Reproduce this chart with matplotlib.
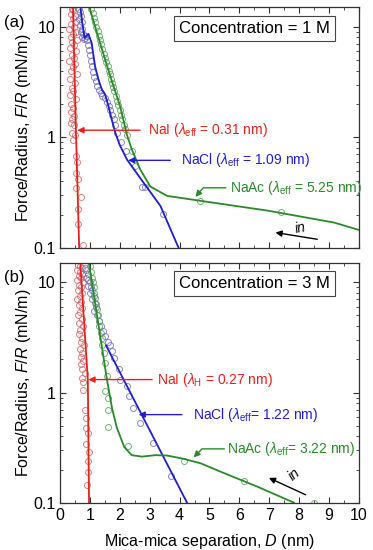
import numpy as np
import matplotlib
matplotlib.use("Agg")
import matplotlib.pyplot as plt
from matplotlib.ticker import NullFormatter, MultipleLocator

plt.rcParams['font.family'] = ['Liberation Sans', 'DejaVu Sans']
plt.rcParams['mathtext.fontset'] = 'custom'
plt.rcParams['mathtext.rm'] = 'Liberation Sans'
plt.rcParams['mathtext.it'] = 'Liberation Sans:italic'

RED, BLUE, GREEN = '#e3221e', '#1f1fd0', '#2a8a2a'
RED_M, BLUE_M, GREEN_M = '#d86a6a', '#7474b8', '#5da55d'

# ---------- panel (a): 1 M ----------
a_nai_d = [0.40, 0.45, 0.35, 0.50, 0.42, 0.55, 0.38, 0.48, 0.30, 0.52, 0.44, 0.36, 0.58, 0.41,
           0.47, 0.33, 0.53, 0.39, 0.46, 0.31, 0.50, 0.43, 0.37, 0.56, 0.34, 0.49, 0.40, 0.45,
           0.32, 0.52, 0.38, 0.44, 0.35, 0.48, 0.41, 0.36, 0.46, 0.41, 0.50, 0.45, 0.55, 0.57,
           0.53, 0.61, 0.55, 0.70, 0.59, 0.61, 0.78]
a_nai_f = [14.5, 14, 13, 12.5, 12, 11, 10.5, 10, 9.5, 9, 8.5, 8, 7.6, 7.2,
           6.8, 6.4, 6.0, 5.6, 5.2, 4.9, 4.6, 4.3, 4.0, 3.7, 3.4, 3.1, 2.8, 2.6,
           2.4, 2.2, 2.0, 1.85, 1.7, 1.55, 1.45, 1.35, 1.28, 1.10, 1.06, 0.95, 0.68, 0.60,
           0.48, 0.42, 0.35, 0.29, 0.225, 0.165, 0.107]
a_nacl_d = [0.62, 0.66, 0.70, 0.64, 0.72, 0.68, 0.74, 0.70, 0.76, 0.73, 0.79, 0.83, 0.87, 0.90,
            0.93, 0.97, 1.00, 1.03, 1.06, 1.10, 1.15, 1.20, 1.25, 1.30, 1.36, 1.42, 1.50, 1.57,
            1.63, 1.68, 1.74, 1.79, 1.85, 1.90, 2.04, 2.21, 2.74, 2.83, 3.45]
a_nacl_f = [14.5, 13.5, 12.5, 11.8, 11, 10.3, 9.6, 9.0, 8.5, 8.0, 7.7, 7.9, 8.3, 7.5,
            6.8, 6.2, 5.5, 4.9, 4.4, 3.9, 3.5, 3.2, 2.9, 2.7, 2.5, 2.35, 2.25, 2.1,
            1.9, 1.75, 1.6, 1.45, 1.3, 1.10, 0.90, 0.75, 0.357, 0.357, 0.205]
a_naac_d = [1.05, 1.09, 1.13, 1.17, 1.21, 1.26, 1.30, 1.34, 1.38, 1.42, 1.47, 1.51, 1.55, 1.59,
            1.63, 1.66, 1.70, 1.74, 1.78, 1.82, 1.87, 1.91, 1.95, 2.00, 2.04, 2.09, 2.14, 2.18,
            2.23, 2.40, 2.52, 4.70, 7.38]
a_naac_f = [14.5, 13.2, 12.0, 11.0, 10.0, 9.1, 8.3, 7.6, 6.9, 6.3, 5.7, 5.2, 4.8, 4.4,
            4.0, 3.7, 3.4, 3.1, 2.85, 2.6, 2.35, 2.15, 1.95, 1.75, 1.6, 1.45, 1.3, 1.18,
            1.06, 0.75, 0.55, 0.267, 0.21]

a_nai_fit_d = [0.43, 0.53, 0.64]
a_nai_fit_f = [16, 1.2, 0.1]
a_nacl_fit_d = [0.67, 0.74, 0.82, 0.88, 0.95, 1.06, 1.17, 1.29, 1.40, 1.51, 1.62, 1.73, 1.85,
                2.00, 2.24, 2.68, 3.36, 3.97]
a_nacl_fit_f = [16, 11, 7.9, 8.2, 8.6, 7.1, 4.4, 3.3, 2.7, 2.44, 1.91, 1.45, 1.10,
                0.85, 0.63, 0.43, 0.24, 0.1]
a_naac_fit_d = [0.95, 1.34, 1.68, 2.01, 2.24, 2.40, 2.68, 3.02, 3.58, 4.70, 6.94, 9.17, 10.1]
a_naac_fit_f = [16, 7.1, 3.57, 1.91, 1.05, 0.78, 0.515, 0.36, 0.296, 0.267, 0.218, 0.17, 0.143]

# ---------- panel (b): 3 M ----------
b_nai_d = [0.60, 0.68, 0.74, 0.58, 0.66, 0.72, 0.62, 0.70, 0.56, 0.76, 0.64, 0.69, 0.60, 0.73,
           0.66, 0.58, 0.71, 0.63, 0.75, 0.67, 0.61, 0.72, 0.65, 0.78, 0.68, 0.62, 0.74, 0.70,
           0.80, 0.66, 0.73, 0.69, 0.77, 0.71, 0.75, 0.82, 0.73, 0.78, 0.78, 0.84, 0.86, 0.87,
           0.92, 0.87, 0.98, 0.95, 0.95, 0.90]
b_nai_f = [14.5, 14, 13.5, 13, 12.5, 12, 11.5, 11, 10.5, 10, 9.5, 9, 8.5, 8,
           7.5, 7, 6.6, 6.2, 5.8, 5.4, 5.0, 4.6, 4.3, 4.0, 3.7, 3.4, 3.1, 2.9,
           2.7, 2.5, 2.3, 2.1, 1.95, 1.8, 1.65, 1.5, 1.36, 1.25, 1.06, 0.70, 0.59, 0.48,
           0.43, 0.34, 0.29, 0.237, 0.19, 0.146]
b_nacl_d = [0.82, 0.88, 0.92, 0.86, 0.95, 1.00, 0.93, 1.03, 1.08, 0.99, 1.12, 1.06, 1.16, 1.20,
            1.13, 1.25, 1.30, 1.36, 1.45, 1.51, 1.60, 1.68, 1.74, 1.79, 1.96, 2.01, 2.24, 2.32,
            2.44, 2.66, 3.12, 3.70]
b_nacl_f = [13.5, 12.8, 12.0, 11.0, 10.5, 10.0, 9.3, 9.0, 8.5, 8.0, 7.5, 7.0, 6.5, 6.0,
            5.5, 5.0, 4.5, 4.0, 3.6, 3.25, 2.9, 2.7, 2.4, 2.07, 1.62, 1.31, 1.14, 0.93,
            0.73, 0.53, 0.35, 0.175]
b_naac_d = [1.01, 1.04, 1.07, 1.10, 1.12, 1.15, 1.18, 1.21, 1.24, 1.27, 1.29, 1.32, 1.36, 1.39,
            1.42, 1.46, 1.51, 1.58, 1.51, 1.59, 1.60, 1.62, 2.27, 4.14, 6.15, 8.50]
b_naac_f = [14, 12.5, 11, 10, 9, 8, 7.2, 6.4, 5.7, 5.0, 4.5, 4.0, 3.5, 3.1,
            2.7, 2.3, 1.86, 1.41, 1.03, 0.90, 0.70, 0.49, 0.33, 0.237, 0.156, 0.1]

b_nai_fit_d = [0.67, 0.93, 0.97]
b_nai_fit_f = [16, 1.3, 0.1]
b_nacl_fit_d = [1.54, 4.25]
b_nacl_fit_f = [2.67, 0.1]
b_naac_fit_d = [0.95, 1.34, 1.57, 1.74, 1.90, 2.15, 2.40, 2.74, 3.19, 3.58, 4.14, 4.70, 5.48,
                6.60, 7.83]
b_naac_fit_f = [16, 3.3, 1.31, 0.72, 0.48, 0.32, 0.27, 0.262, 0.27, 0.268, 0.25, 0.228, 0.186,
                0.14, 0.1]

fig = plt.figure(figsize=(3.73, 5.5), dpi=100)
ax1 = fig.add_axes([0.161, 0.549, 0.801, 0.438])
ax2 = fig.add_axes([0.161, 0.086, 0.801, 0.436])

def style(ax):
    ax.set_yscale('log')
    ax.set_xlim(0, 10)
    ax.set_ylim(0.1, 15)
    ax.set_yticks([0.1, 1, 10])
    ax.set_yticklabels(['0.1', '1', '10'])
    ax.yaxis.set_minor_formatter(NullFormatter())
    ax.xaxis.set_major_locator(MultipleLocator(1))
    ax.xaxis.set_minor_locator(MultipleLocator(0.5))
    ax.tick_params(which='both', direction='in', top=True, right=True, labelsize=11.5,
                   color='#333333')
    ax.tick_params(which='major', length=4)
    ax.tick_params(which='minor', length=2.5)
    for s in ax.spines.values():
        s.set_color('#333333')
        s.set_linewidth(0.9)
    ax.set_ylabel('Force/Radius, $F/R$ (mN/m)', fontsize=11.5, labelpad=0)

def scatter(ax, d, f, c):
    ax.plot(d, f, 'o', ms=4.3, mfc='none', mec=c, mew=0.7, alpha=0.85)

for ax, data in [(ax1, [(a_nai_d, a_nai_f, RED_M), (a_nacl_d, a_nacl_f, BLUE_M),
                        (a_naac_d, a_naac_f, GREEN_M)]),
                 (ax2, [(b_nai_d, b_nai_f, RED_M), (b_nacl_d, b_nacl_f, BLUE_M),
                        (b_naac_d, b_naac_f, GREEN_M)])]:
    style(ax)
    for d, f, c in data:
        scatter(ax, d, f, c)

ax1.plot(a_nai_fit_d, a_nai_fit_f, color=RED, lw=1.3)
ax1.plot(a_nacl_fit_d, a_nacl_fit_f, color=BLUE, lw=1.3)
ax1.plot(a_naac_fit_d, a_naac_fit_f, color=GREEN, lw=1.3)
ax2.plot(b_nai_fit_d, b_nai_fit_f, color=RED, lw=1.3)
ax2.plot(b_nacl_fit_d, b_nacl_fit_f, color=BLUE, lw=1.3)
ax2.plot(b_naac_fit_d, b_naac_fit_f, color=GREEN, lw=1.3)

ax1.tick_params(labelbottom=False)
ax2.set_xlabel('Mica-mica separation, $D$ (nm)', fontsize=11.5, labelpad=7)

def arrow(ax, tail, head, c, **kw):
    ax.annotate('', xy=head, xytext=tail,
                arrowprops=dict(arrowstyle='-|>', color=c, lw=1.0, mutation_scale=9,
                                shrinkA=0, shrinkB=0, **kw))

fs = 10
# panel (a) labels
arrow(ax1, (2.68, 1.16), (0.58, 1.16), RED)
ax1.text(2.95, 1.16, r'NaI ($\lambda_{\rm eff}$ = 0.31 nm)', color=RED, fontsize=fs, va='center')
arrow(ax1, (3.69, 0.62), (2.28, 0.62), BLUE)
ax1.text(4.06, 0.62, r'NaCl ($\lambda_{\rm eff}$ = 1.09 nm)', color=BLUE, fontsize=fs, va='center')
arrow(ax1, (5.55, 0.35), (4.53, 0.29), GREEN, connectionstyle='angle,angleA=0,angleB=49,rad=0')
ax1.text(5.7, 0.35, r'NaAc ($\lambda_{\rm eff}$ = 5.25 nm)', color=GREEN, fontsize=fs, va='center')
arrow(ax1, (8.61, 0.12), (7.21, 0.138), 'k')
ax1.text(8.05, 0.152, 'in', fontsize=fs, style='italic', rotation=10, ha='center', va='center')
ax1.text(6.5, 9.6, 'Concentration = 1 M', fontsize=12, ha='center', va='center',
         bbox=dict(boxstyle='square,pad=0.3', fc='white', ec='#444444', lw=0.8))

# panel (b) labels
arrow(ax2, (3.08, 1.31), (0.95, 1.31), RED)
ax2.text(3.24, 1.31, r'NaI ($\lambda_{\rm H}$ = 0.27 nm)', color=RED, fontsize=fs, va='center')
arrow(ax2, (4.08, 0.63), (2.63, 0.63), BLUE)
ax2.text(4.45, 0.63, r'NaCl ($\lambda_{\rm eff}$= 1.22 nm)', color=BLUE, fontsize=fs, va='center')
arrow(ax2, (5.5, 0.308), (4.47, 0.258), GREEN, connectionstyle='angle,angleA=0,angleB=45,rad=0')
ax2.text(5.6, 0.308, r'NaAc ($\lambda_{\rm eff}$= 3.22 nm)', color=GREEN, fontsize=fs, va='center')
arrow(ax2, (8.22, 0.118), (6.99, 0.168), 'k')
ax2.text(7.85, 0.18, 'in', fontsize=fs, style='italic', rotation=40, ha='center', va='center')
ax2.text(6.5, 9.8, 'Concentration = 3 M', fontsize=12, ha='center', va='center',
         bbox=dict(boxstyle='square,pad=0.3', fc='white', ec='#444444', lw=0.8))

fig.text(0.012, 0.96, '(a)', fontsize=12, va='center')
fig.text(0.012, 0.496, '(b)', fontsize=12, va='center')

fig.savefig('out.png', dpi=100)
